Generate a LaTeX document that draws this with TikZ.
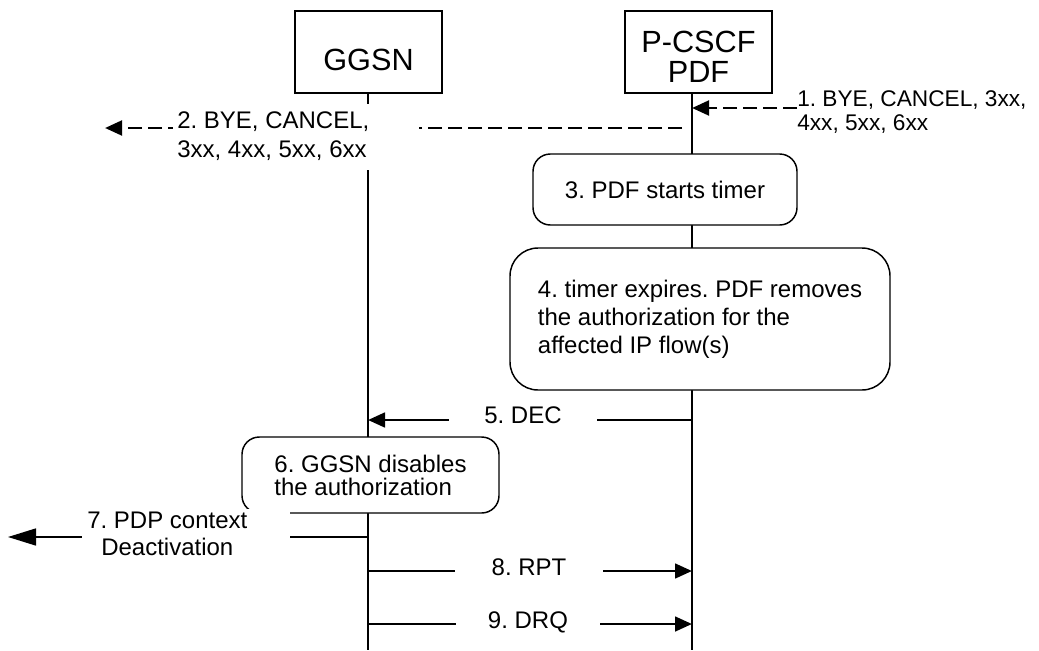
\documentclass[tikz,border=0pt]{standalone}
\usepackage{fontspec}
\setmainfont{Liberation Sans}
\usetikzlibrary{arrows.meta}
\frenchspacing

\newcommand{\msgfont}{\fontsize{18pt}{21pt}\selectfont}

\begin{document}
\begin{tikzpicture}[x=0.75pt, y=-0.75pt,
    entidad/.style={draw, line width=1.1pt, minimum width=110.25pt, minimum height=61.5pt,
        text height=27pt, text depth=0pt, font=\fontsize{23pt}{22.5pt}\selectfont},
    vida/.style={line width=1.2pt},
    proceso/.style={draw, fill=white, line width=1.1pt, rounded corners=13pt,
        align=left, font=\msgfont},
    mensaje/.style={line width=2pt, -{Triangle[length=12.75pt, width=11pt]}},
    sip/.style={mensaje, line width=2.2pt, dash pattern=on 10.5pt off 4.5pt},
    etiqueta/.style={fill=white, inner sep=3pt, font=\msgfont}]
            \useasboundingbox (0,0) rectangle (1039,650);

            % Entidades
            \node[entidad] (ggsn) at (368.5,52) {GGSN};
            \node[entidad] (pcscf) at (698.5,52) {\begin{tabular}{@{}c@{}}P-CSCF\\PDF\end{tabular}};

            % Líneas de vida
            \coordinate (ggsnfin) at (368,650);
            \coordinate (pcscffin) at (692,650);
            \draw[vida] (ggsn.south -| ggsnfin) -- (ggsnfin);
            \draw[vida] (pcscf.south -| pcscffin) -- (pcscffin);

            % 1. Fin de sesión entrante
            \coordinate (m1a) at (797,108);
            \coordinate (m1b) at (692,108);
            \draw[sip] (m1a) -- (m1b);
            \node[anchor=north west, inner sep=0pt, font=\fontsize{17pt}{18pt}\selectfont] (t1) at (797,89)
                {\begin{tabular}{@{}l@{}}1. BYE, CANCEL, 3xx,\\4xx, 5xx, 6xx\end{tabular}};

            % 2. Reenvío hacia la izquierda
            \coordinate (m2a) at (682,128);
            \coordinate (m2b) at (105,128);
            \draw[sip] (m2a) -- (m2b);
            \node[etiqueta, anchor=north west, font=\fontsize{18pt}{21.75pt}\selectfont] (t2) at (173,104)
                {\begin{tabular}{@{}l@{\hspace{34.5pt}}}2. BYE, CANCEL,\\3xx, 4xx, 5xx, 6xx\end{tabular}};

            % 3. y 4. Temporizador en el PDF
            \node[proceso, minimum width=198pt, minimum height=53.25pt] (p3) at (665,189.5) {3. PDF starts timer};
            \node[proceso, minimum width=285pt, minimum height=106.5pt, rounded corners=21pt] (p4) at (700,319)
                {4. timer expires. PDF removes\\the authorization for the\\affected IP flow(s)};

            % 5. DEC
            \coordinate (m5a) at (692,420);
            \coordinate (m5b) at (368,420);
            \draw[mensaje] (m5a) -- (m5b);
            \node[etiqueta, anchor=base, minimum width=111pt] (t5) at (523,423) {5. DEC};

            % 6. GGSN
            \node[proceso, minimum width=192.75pt, minimum height=57pt, font=\fontsize{18pt}{17.25pt}\selectfont] (p6) at (370.5,475)
                {6. GGSN disables\\the authorization};

            % 7. Desactivación del contexto PDP
            \coordinate (m7a) at (368,537);
            \coordinate (m7b) at (8,537);
            \draw[line width=1.2pt, -{Triangle[length=21pt, width=12.75pt]}] (m7a) -- (m7b);
            \node[fill=white, inner xsep=3.75pt, inner ysep=0pt, anchor=north west,
                font=\fontsize{18pt}{20.25pt}\selectfont] (t7) at (82,509)
                {\begin{tabular}{@{}c@{\hspace{28.5pt}}}7. PDP context\\Deactivation\end{tabular}};

            % 8. y 9. RPT, DRQ
            \coordinate (m8a) at (368,571);
            \coordinate (m8b) at (692,571);
            \draw[mensaje] (m8a) -- (m8b);
            \node[etiqueta, anchor=base, minimum width=111pt] (t8) at (529,575) {8. RPT};
            \coordinate (m9a) at (368,624);
            \coordinate (m9b) at (692,624);
            \draw[mensaje] (m9a) -- (m9b);
            \node[etiqueta, anchor=base, minimum width=108pt] (t9) at (528,628) {9. DRQ};
        \end{tikzpicture}
\end{document}
